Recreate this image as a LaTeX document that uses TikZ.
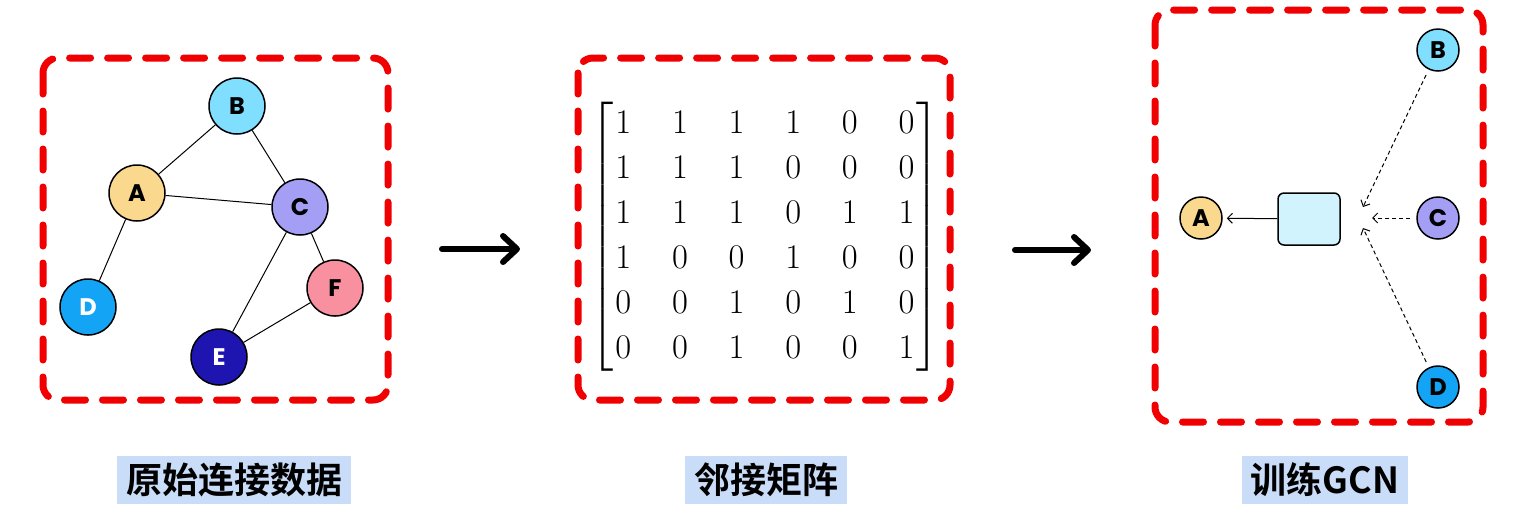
\documentclass[tikz,border=0pt]{standalone}
\usepackage{amsmath}
\usepackage{fontspec}
\newfontfamily\cjk{Noto Sans CJK SC}[BoldFont={Noto Sans CJK SC Bold}]
\newfontfamily\letterfont{Poppins}
\usetikzlibrary{arrows.meta}
\definecolor{boxred}{RGB}{240,0,0}
\definecolor{nodeA}{RGB}{250,217,143}
\definecolor{nodeB}{RGB}{128,223,255}
\definecolor{nodeC}{RGB}{165,158,245}
\definecolor{nodeD}{RGB}{20,164,245}
\definecolor{nodeE}{RGB}{30,20,176}
\definecolor{nodeF}{RGB}{249,144,159}
\definecolor{cellfill}{RGB}{208,243,253}
\definecolor{tagfill}{RGB}{201,220,248}
\tikzset{
  frame/.style={draw=boxred, line width=3.5pt, line cap=round,
    dash pattern=on 10.5pt off 8.5pt, rounded corners=7.5pt},
  vert/.style={circle, draw=black, line width=0.75pt, minimum size=28pt,
    inner sep=0pt, font=\letterfont\bfseries\fontsize{12pt}{12pt}\selectfont},
  small/.style={vert, minimum size=21pt},
  tag/.style={fill=tagfill, inner xsep=4.5pt, minimum height=23pt,
    font=\cjk\bfseries\fontsize{18pt}{18pt}\selectfont},
  bigarrow/.style={line width=3pt, line cap=round,
    -{Straight Barb[length=7pt,width=13pt,line cap=round,line join=round]}},
}
\begin{document}
\begin{tikzpicture}[x=0.5pt, y=-0.5pt]
\useasboundingbox (0,0) rectangle (1520,527);
% dashed frames
\draw[frame] (43,58) rectangle (388,400);
\draw[frame] (578,58) rectangle (950,400);
\draw[frame] (1155,10) rectangle (1483,422);
% original graph
\node[vert, fill=nodeB] (B) at (237,106) {B};
\node[vert, fill=nodeA] (A) at (137,193) {A};
\node[vert, fill=nodeC] (C) at (300,207) {C};
\node[vert, fill=nodeD, text=white] (D) at (88,307) {D};
\node[vert, fill=nodeF] (F) at (335,288) {F};
\node[vert, fill=nodeE, text=white] (E) at (219,357) {E};
\draw[line width=0.5pt] (A) -- (B) (B) -- (C) (A) -- (C) (A) -- (D)
  (C) -- (E) (C) -- (F) (E) -- (F);
% adjacency matrix
\node (adj) at (765,237) {\fontsize{18pt}{22.5pt}\selectfont
  \setlength{\arraycolsep}{10.2pt}%
  $\left[\begin{array}{@{\hspace{1pt}}cccccc@{\hspace{1pt}}}
  1 & 1 & 1 & 1 & 0 & 0\\
  1 & 1 & 1 & 0 & 0 & 0\\
  1 & 1 & 1 & 0 & 1 & 1\\
  1 & 0 & 0 & 1 & 0 & 0\\
  0 & 0 & 1 & 0 & 1 & 0\\
  0 & 0 & 1 & 0 & 0 & 1
  \end{array}\right]$};
% training GCN
\node[small, fill=nodeA] (tA) at (1201,218) {A};
\node[small, fill=nodeB] (tB) at (1438,50) {B};
\node[small, fill=nodeC] (tC) at (1438,218) {C};
\node[small, fill=nodeD] (tD) at (1438,387) {D};
\node[draw=black, line width=0.75pt, fill=cellfill, rounded corners=3pt,
  minimum width=31pt, minimum height=26pt] (cell) at (1309,219) {};
\coordinate (hb) at (1363,207);
\coordinate (hc) at (1372,218);
\coordinate (hd) at (1363,228);
\draw[line width=0.5pt, -{Straight Barb[length=2.5pt,width=5pt]}, shorten >=2pt]
  (cell) -- (tA);
\draw[line width=0.5pt, dash pattern=on 2pt off 1.5pt, shorten <=3pt,
  -{Straight Barb[length=2.5pt,width=5pt]}]
  (tB) -- (hb);
\draw[line width=0.5pt, dash pattern=on 2pt off 1.5pt, shorten <=3pt,
  -{Straight Barb[length=2.5pt,width=5pt]}]
  (tC) -- (hc);
\draw[line width=0.5pt, dash pattern=on 2pt off 1.5pt, shorten <=3pt,
  -{Straight Barb[length=2.5pt,width=5pt]}]
  (tD) -- (hd);
% big arrows
\coordinate (a1) at (442,249);
\coordinate (a2) at (520,249);
\coordinate (b1) at (1015,250);
\coordinate (b2) at (1091,250);
\draw[bigarrow] (a1) -- (a2);
\draw[bigarrow] (b1) -- (b2);
% captions
\node[tag] (t1) at (234,480) {原始连接数据};
\node[tag] (t2) at (766,480) {邻接矩阵};
\node[tag] (t3) at (1325,480) {训练GCN};
\end{tikzpicture}
\end{document}
